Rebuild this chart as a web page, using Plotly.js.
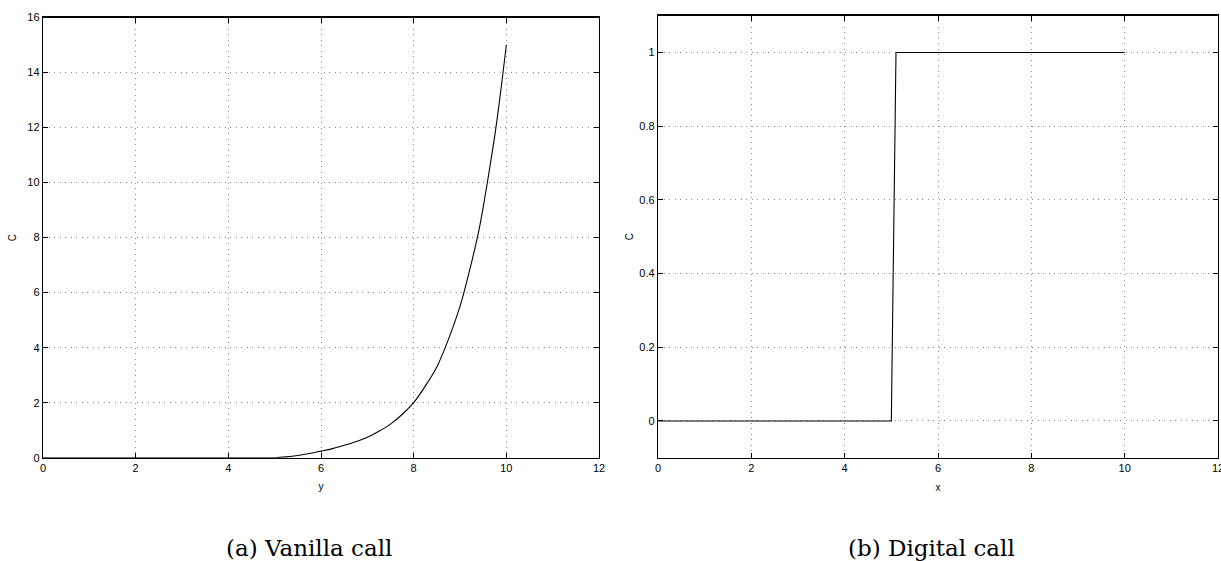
<!DOCTYPE html>
<html>
<head>
<meta charset="utf-8">
<script src="https://cdn.plot.ly/plotly-3.0.1.min.js"></script>
<style>
html,body{margin:0;padding:0;background:#fff;}
#chart{width:1221px;height:561px;}
</style>
</head>
<body>
<div id="chart"></div>
<script>
// Vanilla call: option value C against underlying y
const vanillaY = [0, 1, 2, 3, 4, 5, 5.25, 5.5, 5.75, 6, 6.25, 6.5, 6.75, 7, 7.25, 7.5, 7.75, 8, 8.25, 8.5, 8.75, 9, 9.1, 9.25, 9.4, 9.5, 9.6, 9.75, 9.8, 9.9, 10];
const vanillaC = [0, 0, 0, 0, 0, 0, 0.03, 0.08, 0.15, 0.24, 0.33, 0.45, 0.58, 0.74, 0.96, 1.22, 1.57, 2.0, 2.6, 3.3, 4.3, 5.5, 6.1, 7.1, 8.2, 9.1, 10.1, 11.7, 12.3, 13.6, 15.0];
// Digital call: option value C against underlying x
const digitalX = [0, 1, 2, 3, 4, 5, 5.1, 6, 7, 8, 9, 10];
const digitalC = [0, 0, 0, 0, 0, 0, 1, 1, 1, 1, 1, 1];
// Tick labels
const xTicks = [0, 2, 4, 6, 8, 10, 12];
const yTicksLeft = [0, 2, 4, 6, 8, 10, 12, 14, 16];
const yTicksRight = [0, 0.2, 0.4, 0.6, 0.8, 1];
const yTickTextRight = ['0', '0.2', '0.4', '0.6', '0.8', '1'];
const captions = ['(a) Vanilla call', '(b) Digital call'];

const tickFont = {family: 'Liberation Sans, Arial, sans-serif', size: 11, color: '#000'};
function axisBase(extra) {
  return Object.assign({
    showline: true, linecolor: '#000', linewidth: 1.2, mirror: 'ticks',
    ticks: 'inside', ticklen: 5, tickcolor: '#000', tickwidth: 1,
    showgrid: true, gridcolor: '#8a8a8a', gridwidth: 1, griddash: '1px,4.5px',
    zeroline: false, tickfont: tickFont, fixedrange: true, ticklabeloverflow: 'allow'
  }, extra);
}
const titleFont = {family: 'Liberation Sans, Arial, sans-serif', size: 10, color: '#000'};
const captionFont = {family: 'DejaVu Serif, Liberation Serif, serif', size: 23, color: '#000'};

const traces = [
  {x: vanillaY, y: vanillaC, type: 'scatter', mode: 'lines', line: {color: '#000', width: 1.1, shape: 'spline', smoothing: 0.6}, xaxis: 'x', yaxis: 'y', hoverinfo: 'skip'},
  {x: digitalX, y: digitalC, type: 'scatter', mode: 'lines', line: {color: '#000', width: 1.1}, xaxis: 'x2', yaxis: 'y2', hoverinfo: 'skip'}
];

const layout = {
  width: 1221, height: 561,
  margin: {l: 0, r: 0, t: 0, b: 0},
  paper_bgcolor: '#fff', plot_bgcolor: '#fff',
  showlegend: false,
  xaxis: axisBase({domain: [43/1221, 599/1221], range: [0, 12], tickvals: xTicks, anchor: 'y',
    title: {text: 'y', font: titleFont, standoff: 10}}),
  yaxis: axisBase({domain: [103.3/561, 543.5/561], range: [0, 16], tickvals: yTicksLeft, anchor: 'x',
    title: {text: 'C', font: titleFont, standoff: 8}}),
  xaxis2: axisBase({domain: [658/1221, 1218/1221], range: [0, 12], tickvals: xTicks, anchor: 'y2',
    title: {text: 'x', font: titleFont, standoff: 10}}),
  yaxis2: axisBase({domain: [103.2/561, 545.4/561], range: [-0.1, 1.1], tickvals: yTicksRight, ticktext: yTickTextRight, anchor: 'x2',
    title: {text: 'C', font: titleFont, standoff: 3}}),
  annotations: [
    {text: captions[0], xref: 'paper', yref: 'paper', x: 309/1221, y: 1 - 548/561, xanchor: 'center', yanchor: 'middle', showarrow: false, font: captionFont},
    {text: captions[1], xref: 'paper', yref: 'paper', x: 931/1221, y: 1 - 548/561, xanchor: 'center', yanchor: 'middle', showarrow: false, font: captionFont}
  ]
};

Plotly.newPlot('chart', traces, layout, {staticPlot: true, displayModeBar: false});
</script>
</body>
</html>
